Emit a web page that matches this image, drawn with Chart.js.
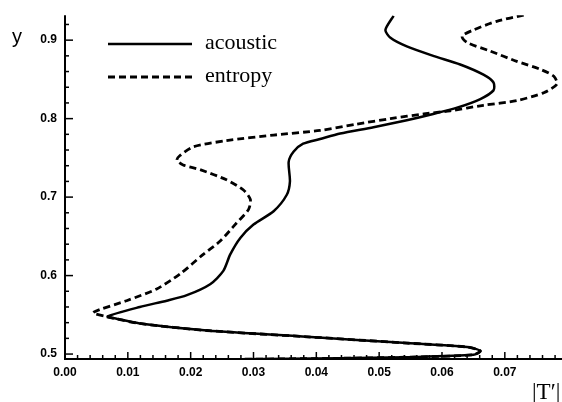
<!DOCTYPE html>
<html>
<head>
<meta charset="utf-8">
<script src="https://cdn.jsdelivr.net/npm/chart.js@4.4.1/dist/chart.umd.min.js"></script>
<style>
  html, body { margin: 0; padding: 0; background: #fff; }
  #wrap { width: 562px; height: 402px; }
</style>
</head>
<body>
<div id="wrap"><canvas id="profile" width="562" height="402"></canvas></div>
<script>
// |T'| profiles against y (top of the domain first)
var acousticX = [0.0523, 0.0510, 0.0518, 0.0544, 0.0586, 0.0629, 0.0666, 0.0682, 0.0682, 0.0661,
                 0.0624, 0.0586, 0.0544, 0.0491, 0.0438, 0.0406, 0.0379, 0.0364, 0.0356, 0.0358,
                 0.0353, 0.0332, 0.0300, 0.0279, 0.0263, 0.0252, 0.0231, 0.0194, 0.0162, 0.0119,
                 0.0068, 0.0082, 0.0119, 0.0226, 0.0385, 0.0544, 0.0640, 0.0661, 0.0650, 0.0544,
                 0.0438, 0.0279];
var acousticY = [0.931, 0.913, 0.903, 0.892, 0.880, 0.869, 0.856, 0.846, 0.836, 0.825,
                 0.814, 0.806, 0.798, 0.789, 0.781, 0.774, 0.768, 0.758, 0.745, 0.720,
                 0.703, 0.682, 0.665, 0.648, 0.627, 0.606, 0.589, 0.575, 0.568, 0.560,
                 0.548, 0.545, 0.539, 0.530, 0.522, 0.514, 0.509, 0.504, 0.499, 0.496,
                 0.4946, 0.4933];

var entropyX = [0.0730, 0.0687, 0.0650, 0.0632, 0.0640, 0.0677, 0.0719, 0.0756, 0.0778, 0.0783,
                0.0762, 0.0719, 0.0666, 0.0613, 0.0571, 0.0518, 0.0464, 0.0406, 0.0332, 0.0257,
                0.0204, 0.0183, 0.0178, 0.0188, 0.0215, 0.0257, 0.0284, 0.0295, 0.0292, 0.0273,
                0.0247, 0.0220, 0.0183, 0.0146, 0.0098, 0.0045, 0.0064, 0.0119, 0.0226, 0.0385,
                0.0544, 0.0640, 0.0661, 0.0650, 0.0544, 0.0438, 0.0279];
var entropyY = [0.932, 0.924, 0.913, 0.905, 0.897, 0.886, 0.873, 0.863, 0.854, 0.844,
                0.833, 0.823, 0.817, 0.810, 0.806, 0.800, 0.793, 0.785, 0.779, 0.772,
                0.764, 0.753, 0.747, 0.741, 0.735, 0.722, 0.709, 0.697, 0.684, 0.667,
                0.644, 0.627, 0.602, 0.583, 0.568, 0.553, 0.548, 0.539, 0.530, 0.522,
                0.514, 0.509, 0.504, 0.499, 0.496, 0.4946, 0.4933];

var seriesNames = ['acoustic', 'entropy'];

// axis ranges and tick spacing
var xMin = 0, xMax = 0.0791, xMajor = 0.01, xMinor = 0.002;
var yMin = 0.4937, yMax = 0.9318, yMajor = 0.1, yMinor = 0.02;

function toPoints(xs, ys) {
  var pts = [];
  for (var i = 0; i < xs.length; i++) {
    pts.push({x: xs[i], y: ys[i]});
  }
  return pts;
}

// axis lines, inward ticks, legend and axis names, like the printed figure
var figureDecor = {
  id: 'figureDecor',
  afterDraw: function(chart) {
    var ctx = chart.ctx;
    var a = chart.chartArea;
    var xs = chart.scales.x, ys = chart.scales.y;
    ctx.save();
    ctx.strokeStyle = '#000';
    ctx.lineWidth = 2;
    ctx.beginPath();
    ctx.moveTo(a.left, a.top);
    ctx.lineTo(a.left, a.bottom);
    ctx.lineTo(a.right, a.bottom);
    ctx.stroke();

    ctx.lineWidth = 1.5;
    var per = Math.round(xMajor / xMinor);
    for (var i = 0; i * xMinor <= xs.max + 1e-9; i++) {
      var px = xs.getPixelForValue(i * xMinor);
      var len = (i % per === 0) ? 7 : 4;
      ctx.beginPath();
      ctx.moveTo(px, a.bottom);
      ctx.lineTo(px, a.bottom - len);
      ctx.stroke();
    }
    per = Math.round(yMajor / yMinor);
    var j0 = Math.ceil(ys.min / yMinor - 1e-9), j1 = Math.floor(ys.max / yMinor + 1e-9);
    for (var j = j0; j <= j1; j++) {
      var py = ys.getPixelForValue(j * yMinor);
      var l2 = (j % per === 0) ? 8 : 4;
      ctx.beginPath();
      ctx.moveTo(a.left, py);
      ctx.lineTo(a.left + l2, py);
      ctx.stroke();
    }

    // legend
    var rows = [44, 77];
    chart.data.datasets.forEach(function(ds, k) {
      ctx.lineWidth = ds.borderWidth;
      ctx.setLineDash(ds.borderDash || []);
      ctx.beginPath();
      ctx.moveTo(108, rows[k]);
      ctx.lineTo(192, rows[k]);
      ctx.stroke();
      ctx.setLineDash([]);
      ctx.fillStyle = '#000';
      ctx.font = '22px "Liberation Serif", "DejaVu Serif", serif';
      ctx.textAlign = 'left';
      ctx.textBaseline = 'alphabetic';
      ctx.fillText(ds.label, 205, rows[k] + 5);
    });

    // axis names
    ctx.font = '20px "Liberation Sans", Arial, sans-serif';
    ctx.fillText('y', 12, 43);
    ctx.font = '23px "Liberation Serif", "DejaVu Serif", serif';
    ctx.fillText('|T\u2032|', 532, 399);
    ctx.restore();
  }
};

var tickFont = {family: '"Liberation Sans", Arial, sans-serif', size: 12, weight: 'bold'};

var chart = new Chart(document.getElementById('profile'), {
  type: 'scatter',
  data: {
    datasets: [
      {
        label: seriesNames[0],
        data: toPoints(acousticX, acousticY),
        showLine: true,
        borderColor: '#000',
        borderWidth: 2.5,
        pointRadius: 0,
        tension: 0.25
      },
      {
        label: seriesNames[1],
        data: toPoints(entropyX, entropyY),
        showLine: true,
        borderColor: '#000',
        borderWidth: 2.8,
        borderDash: [7, 4],
        pointRadius: 0,
        tension: 0.25
      }
    ]
  },
  options: {
    responsive: false,
    animation: false,
    layout: {padding: {top: 12, right: 0, left: 0, bottom: 0}},
    plugins: {
      legend: {display: false},
      tooltip: {enabled: false}
    },
    scales: {
      x: {
        type: 'linear',
        min: xMin,
        max: xMax,
        grid: {display: false, drawTicks: false},
        border: {display: false},
        ticks: {
          stepSize: xMajor,
          includeBounds: false,
          color: '#000',
          font: tickFont,
          padding: 6,
          maxRotation: 0,
          callback: function(v) { return v.toFixed(2); }
        },
        afterFit: function(s) { s.height = 43; }
      },
      y: {
        type: 'linear',
        min: yMin,
        max: yMax,
        grid: {display: false, drawTicks: false},
        border: {display: false},
        ticks: {
          stepSize: yMajor,
          includeBounds: false,
          color: '#000',
          font: tickFont,
          padding: 8,
          callback: function(v) { return v.toFixed(1); }
        },
        afterFit: function(s) { s.width = 65; }
      }
    }
  },
  plugins: [figureDecor]
});
</script>
</body>
</html>
